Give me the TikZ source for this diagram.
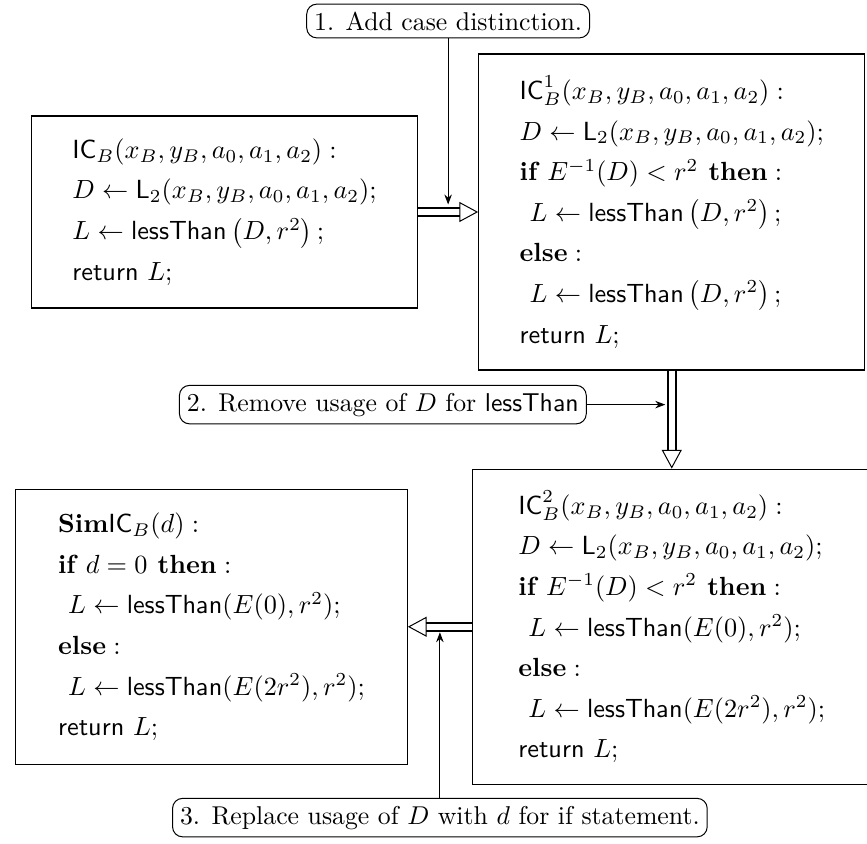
\RequirePackage{fix-cm}
\documentclass[tikz,border=0pt]{standalone}
\usetikzlibrary{arrows.meta,positioning,calc}
\tikzset{
  codebox/.style={draw, line width=0.5pt, align=left, font=\fontsize{10.5}{16.25}\selectfont},
  stepnote/.style={draw, thin, rounded corners=4pt, inner sep=3pt, font=\fontsize{10.3}{12}\selectfont},
  trans/.style={double, double distance=2.5pt, line width=0.7pt,
    -{Triangle[open, length=7.5pt, width=8pt, line width=0.4pt]}},
  hint/.style={thin, -{Stealth[length=4pt, width=3pt]}},
}

\begin{document}
\begin{tikzpicture}[x=0.4pt, y=-0.4pt]
\useasboundingbox (0,0) rectangle (867,844);
% the four versions of the program
\node[codebox, minimum width=154.4pt, minimum height=76.8pt] (icb) at (224.5,212) {
  $\mathsf{IC}_B(x_B,y_B,a_0,a_1,a_2):$\\
  $D \leftarrow \mathsf{L}_2(x_B,y_B,a_0,a_1,a_2);$\\
  $L \leftarrow \mathsf{lessThan}\left(D,r^2\right);$\\
  \textsf{return} $L$;};
\node[codebox, minimum width=154.4pt, minimum height=126.4pt, right=24pt of icb] (ic1) {
  $\mathsf{IC}^1_B(x_B,y_B,a_0,a_1,a_2):$\\
  $D \leftarrow \mathsf{L}_2(x_B,y_B,a_0,a_1,a_2);$\\
  $\textbf{if } E^{-1}(D) < r^2 \textbf{ then}:$\\
  \hspace*{4pt}$L \leftarrow \mathsf{lessThan}\left(D,r^2\right);$\\
  $\textbf{else}:$\\
  \hspace*{4pt}$L \leftarrow \mathsf{lessThan}\left(D,r^2\right);$\\
  \textsf{return} $L$;};
\node[codebox, minimum width=159.4pt, minimum height=126pt, below=39.2pt of ic1] (ic2) {
  $\mathsf{IC}^2_B(x_B,y_B,a_0,a_1,a_2):$\\
  $D \leftarrow \mathsf{L}_2(x_B,y_B,a_0,a_1,a_2);$\\
  $\textbf{if } E^{-1}(D) < r^2 \textbf{ then}:$\\
  \hspace*{4pt}$L \leftarrow \mathsf{lessThan}(E(0),r^2);$\\
  $\textbf{else}:$\\
  \hspace*{4pt}$L \leftarrow \mathsf{lessThan}(E(2r^2),r^2);$\\
  \textsf{return} $L$;};
\node[codebox, minimum width=156.6pt, minimum height=110pt, left=25.6pt of ic2] (sim) {
  $\textbf{Sim}\mathsf{IC}_B(d):$\\
  $\textbf{if } d=0 \textbf{ then}:$\\
  \hspace*{4pt}$L \leftarrow \mathsf{lessThan}(E(0),r^2);$\\
  $\textbf{else}:$\\
  \hspace*{4pt}$L \leftarrow \mathsf{lessThan}(E(2r^2),r^2);$\\
  \textsf{return} $L$;};

% transformations
\draw[trans] (icb) -- (ic1);
\draw[trans] (ic1.south) -- (ic1.south |- ic2.north);
\draw[trans] (ic2) -- (sim);

\coordinate (m1) at ($(icb.east)!0.5!(ic1.west)$);
\coordinate (m3) at ($(sim.east)!0.5!(ic2.west)$);

% the steps
\node[stepnote, anchor=south] (note1) at ($(m1 |- ic1.north)+(0,6pt)$) {1. Add case distinction.};
\node[stepnote, anchor=east] (note2) at ($(ic1.south)+(-34pt,-13.6pt)$) {2. Remove usage of $D$ for \textsf{lessThan}};
\node[stepnote, anchor=north] (note3) at ($(m3 |- ic2.south)+(0,-5.2pt)$) {3. Replace usage of $D$ with $d$ for if statement.};

\draw[hint] (note1) -- ([yshift=3pt]m1);
\draw[hint] (note2) -- ($(note2.east -| ic1.south)+(-2.6pt,0)$);
\draw[hint] (note3) -- ([yshift=-2.2pt]m3);
\end{tikzpicture}
\end{document}
